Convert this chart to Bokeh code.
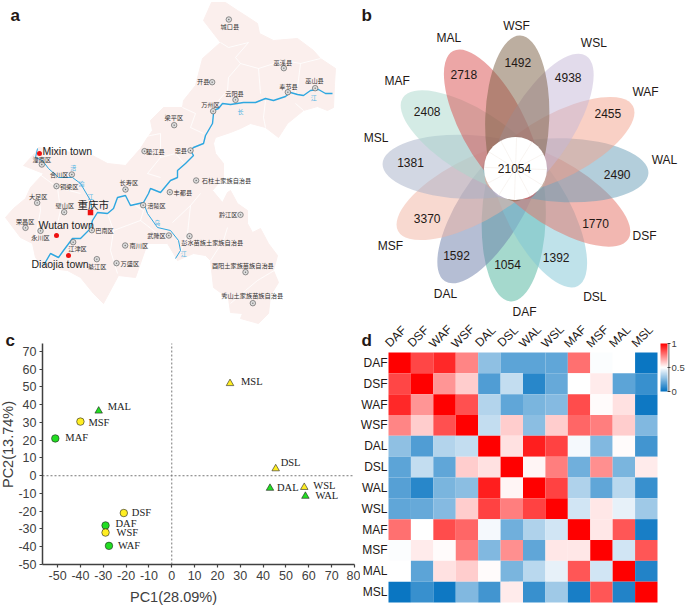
import math
from bokeh.plotting import figure
from bokeh.layouts import column, row
from bokeh.models import (Range1d, Label, LinearColorMapper, ColorBar,
                          FixedTicker, PolyAnnotation, ColumnDataSource)
from bokeh.transform import transform
from bokeh.core.properties import value
from bokeh.embed import file_html
from bokeh.resources import INLINE

SANS = "Liberation Sans"
SERIF = "Liberation Serif"
CJK = "Noto Sans CJK SC"

# ---------- panel a: map ----------
map_x = [211,225,237,248,257,259,273,297,313,320,335,334,333,327,317,303,287,278,265,250,240,230,215,213,215,223,223,
         212,222,227,230,237,247,247,252,260,268,277,273,278,270,268,258,240,242,230,228,213,210,205,193,177,173,167,147,
         135,118,103,93,80,67,43,35,32,20,5,13,25,30,43,23,35,38,92,107,125,140,147,152,150,163,182,183,195,202,220,203]
map_y = [2,2,10,17,23,33,40,38,50,58,68,83,107,110,106,110,123,137,127,123,128,132,137,143,153,163,177,
         190,202,192,190,203,210,223,232,228,243,255,270,282,295,313,323,318,313,312,298,287,260,255,253,260,253,243,243,
         277,275,303,293,277,270,267,257,243,237,217,208,198,187,173,165,152,147,155,163,165,148,137,130,120,107,107,100,85,58,42,20]
borders = [
    [(220,42),(228,47),(248,42),(235,57),(240,63),(258,68),(283,60),(300,63),(320,58)],
    [(240,63),(228,77),(227,90),(218,100)],
    [(258,68),(260,93)],
    [(300,63),(297,87),(293,95)],
    [(295,103),(303,110)],
    [(265,100),(263,117),(265,127)],
    [(182,107),(195,113),(190,127),(203,133)],
    [(140,137),(160,133),(160,157),(147,173),(160,177)],
    [(160,157),(175,153),(183,162)],
    [(190,205),(187,233),(180,252)],
    [(200,193),(190,205),(172,222)],
    [(227,227),(223,240),(210,260)],
    [(277,268),(257,280),(245,290),(230,303)],
    [(107,213),(113,230),(110,250),(117,273)],
    [(38,173),(57,187),(80,193)],
    [(57,187),(60,210),(57,223)],
    [(38,195),(40,210),(35,237)],
    [(113,230),(140,220),(143,210),(127,200)],
    [(140,220),(157,233)],
]
yangtze = [(332,93),(325,93),(318,89),(310,90),(303,95),(297,94),(290,92),(285,96),(273,100),(265,98),(255,102),(243,102),
           (230,104),(222,103),(218,108),(213,110),(213,113),(212,123),(205,135),(203,143),(193,147),(190,150),(193,155),
           (185,163),(177,170),(177,177),(170,180),(160,192),(150,188),(148,193),(143,202),(130,205),(125,195),(117,197),
           (113,208),(107,213),(97,212),(92,220),(90,228),(80,238),(72,238),(63,250),(58,257),(50,253),(43,265)]
jialing = [(92,212),(90,200),(80,183),(72,177),(58,177),(48,168),(42,160),(35,157),(37,148)]
wujiang = [(143,202),(147,213),(157,227),(170,230),(178,240),(180,250),(175,258)]

place_names = ["城口县","巫溪县","开县","奉节县","巫山县","云阳县","万州区","梁平区","忠县","垫江县","石柱土家族自治县",
               "长寿区","丰都县","涪陵区","黔江区","武隆区","彭水苗族土家族自治县","南川区","巴南区","江津区","綦江区",
               "万盛区","酉阳土家族苗族自治县","秀山土家族苗族自治县","潼南区","合川区","铜梁区","大足区","璧山区","荣昌区","永川区"]
sym_x = [685,850,635,862,944,705,638,521,570,432,587,375,508,428,720,505,567,374,274,218,289,348,735,757,124,214,168,110,191,75,120]
sym_y = [57,203,245,275,263,298,332,374,450,452,540,567,575,614,643,705,707,735,689,725,776,788,815,908,492,522,557,607,635,682,691]
lab_x = [688,847,608,864,942,702,630,520,541,465,678,385,547,468,683,468,635,415,312,231,290,388,727,755,124,176,206,113,193,74,120]
lab_y = [78,187,243,257,239,280,312,352,450,453,539,547,575,614,642,704,727,735,689,743,798,789,796,885,476,523,558,587,615,663,711]
river_names = ["长","江","江","渝","乌","江","涪"]
river_x = [720,940,270,243,470,550,218]
river_y = [333,292,587,548,665,758,500]
town_names = ["Mixin town","Wutan town","Diaojia town"]
town_dot_x = [39,56,68]
town_dot_y = [153,235,255]
town_lab_x = [42,38,31]
town_lab_y = [150,224,263]

# ---------- panel b: petals ----------
petal_names = ["WSF","WSL","WAF","WAL","DSF","DSL","DAF","DAL","MSF","MSL","MAF","MAL"]
petal_vals = [1492,4938,2455,2490,1770,1392,1054,1592,3370,1381,2408,2718]
petal_core = 21054
petal_cols = ["#795d41","#c5b7d7","#f3a18b","#679db7","#e56f63","#7fc5d5","#4bb39b","#6b7da9","#f1b3a1","#a5afc7","#a9d7cb","#d94d4d"]
val_x = [517,668,787,815,750,632,486,333,245,195,245,355]
val_y = [187,230,340,523,668,770,792,764,653,485,332,222]
name_x = [513,745,900,957,897,748,537,300,135,92,155,310]
name_y = [75,128,275,478,705,890,935,880,735,413,242,113]

# ---------- panel c: PCA ----------
pc_names = ["MSL","MAL","MSF","MAF","DSL","DAL","WSL","WAL","DSF","DAF","WSF","WAF"]
pc1 = [25.5,-32,-40,-51,45.5,43,58,58.5,-21,-29,-29,-27.5]
pc2 = [52,36.5,30.5,21,4,-7,-6.5,-11.5,-21,-28,-32,-39.5]
pc_marker = ["triangle","triangle","circle","circle","triangle","triangle","triangle","triangle","circle","circle","circle","circle"]
pc_col = ["#ffee22","#22dd22","#ffee22","#22dd22","#ffee22","#22dd22","#ffee22","#22dd22","#ffee22","#22dd22","#ffee22","#22dd22"]
pc_dx = [11,9,8,10,5,7,9,10,8,10,11,9]
pc_dy = [-2,-4,1,-1,-6,-1,-2,-1,-1,-2,0,0]
xticks = [-50,-40,-30,-20,-10,0,10,20,30,40,50,60,70,80]
yticks = [-50,-40,-30,-20,-10,0,10,20,30,40,50,60,70]

# ---------- panel d: correlation ----------
hm_names = ["DAF","DSF","WAF","WSF","DAL","DSL","WAL","WSL","MAF","MSF","MAL","MSL"]
hm_rows = [
    [1,.86,.92,.74,.28,.18,.18,.19,.78,.49,.5,.02],
    [.86,1,.71,.6,.16,.38,.08,.2,.5,.54,.18,.11],
    [.92,.71,1,.84,.35,.19,.24,.26,.85,.51,.56,.03],
    [.74,.6,.84,1,.38,.6,.27,.6,.8,.75,.6,.25],
    [.28,.16,.35,.38,1,.56,.94,.87,.48,.25,.51,.13],
    [.18,.38,.19,.6,.56,1,.52,.75,.22,.72,.24,.54],
    [.17,.08,.24,.27,.94,.52,1,.87,.34,.19,.36,.11],
    [.19,.2,.26,.6,.87,.75,.87,1,.41,.55,.45,.31],
    [.78,.5,.85,.8,.48,.22,.34,.41,1,.55,.83,.05],
    [.49,.54,.51,.75,.25,.72,.19,.55,.55,1,.41,.83],
    [.5,.18,.56,.6,.51,.24,.36,.45,.83,.41,1,.07],
    [.02,.11,.03,.25,.13,.54,.11,.31,.05,.83,.07,1],
]


def bare(fig):
    fig.xaxis.visible = False
    fig.yaxis.visible = False
    fig.xgrid.visible = False
    fig.ygrid.visible = False
    fig.outline_line_color = None
    fig.min_border = 0


def letter(fig, txt, x, y):
    fig.add_layout(Label(x=x, y=y, x_units="screen", y_units="screen", text=txt, text_font=SANS,
                         text_font_style="bold", text_font_size="17px", text_color="#231815",
                         text_align="left", text_baseline="alphabetic"))


W_A, W_B, H_A, H_B_TOP = 360, 325, 326, 320
W_C, W_D, H_C, H_D = 360, 325, 279, 285

# --- a ---
a = figure(width=W_A, height=H_A, x_range=Range1d(0, W_A), y_range=Range1d(H_A, 0),
           output_backend="svg", toolbar_location=None, tools="")
bare(a)
a.patch(map_x, map_y, fill_color="#fbefed", line_color="#fbefed", line_width=1)
a.multi_line([[q[0] for q in b] for b in borders], [[q[1] for q in b] for b in borders],
             line_color="#ffffff", line_width=0.8)
for r, w in ((yangtze, 1.4), (jialing, 1.0), (wujiang, 1.0)):
    a.line([q[0] for q in r], [q[1] for q in r], line_color="#2ea7e0", line_width=w)
a.text([v/3 for v in river_x], [v/3 for v in river_y], text=river_names, text_font=value(CJK),
       text_font_size="6px", text_color="#4fb4e4", text_align="center", text_baseline="middle")
a.scatter([v/3 for v in sym_x], [v/3 for v in sym_y], marker="circle_dot", size=5.5,
          fill_color="#dddddd", line_color="#666666", line_width=0.7)
a.text([v/3 for v in lab_x], [v/3 for v in lab_y], text=place_names, text_font=value(CJK),
       text_font_size="6.2px", text_color="#333333", text_align="center", text_baseline="middle")
a.scatter(town_dot_x, town_dot_y, size=5, fill_color="#ee1111", line_color=None)
a.scatter([90], [212], marker="square", size=5.5, fill_color="#ee1111", line_color=None)
a.text(town_lab_x, town_lab_y, text=town_names, text_font=value(SANS), text_font_size="10.5px",
       text_color="#222222", text_align="left", text_baseline="middle")
a.text([77], [204], text=["重庆市"], text_font=value(CJK), text_font_size="10.5px",
       text_color="#222222", text_align="left", text_baseline="middle")
letter(a, "a", 10, H_A - 15)

# --- b ---
CX, CY = 515, 168
b = figure(width=W_B, height=H_B_TOP, x_range=Range1d(W_A - CX, W_A + W_B - CX), y_range=Range1d(CY - H_B_TOP, CY),
           output_backend="svg", toolbar_location=None, tools="")
bare(b)
START, STEP, MID, MAJOR, MINOR, HOLE = 88, -30, 50, 166, 64, 31.5
angs = [math.radians(START + STEP * i) for i in range(len(petal_names))]
for i in (6, 7, 5, 8, 4, 9, 3, 10, 2, 11, 1, 0):
    b.ellipse([MID * math.cos(angs[i])], [MID * math.sin(angs[i])], width=MAJOR, height=MINOR, angle=angs[i],
              fill_color=petal_cols[i], fill_alpha=0.5, line_color=None)
b.circle([0], [0], radius=HOLE, fill_color="#ffffff", line_color=None)
b.segment([0]*12, [0]*12, [HOLE*math.cos(t) for t in angs], [HOLE*math.sin(t) for t in angs],
          line_color="#f5efeb", line_width=0.7)
b.text([345 + v/3 - CX for v in val_x] + [345 + 507/3 - CX], [CY - v/3 for v in val_y] + [CY - 503/3],
       text=[str(v) for v in petal_vals] + [str(petal_core)], text_font=value(SANS), text_font_size="12px",
       text_color="#231815", text_align="center", text_baseline="middle")
b.text([345 + v/3 - CX for v in name_x], [CY - v/3 for v in name_y], text=petal_names, text_font=value(SANS),
       text_font_size="12px", text_color="#231815", text_align="center", text_baseline="middle")
letter(b, "b", 1, H_B_TOP - 15)

# --- c --- (frame covers the whole canvas; the axes sit at fixed locations inside it)
X0, X1, Y0, Y1 = -56.6, 80, -50, 74.5
PX_L, PX_R, PX_T, PX_B = 42, 6, 17, 41
sx = (X1 - X0) / (W_C - PX_L - PX_R)
sy = (Y1 - Y0) / (H_C - PX_T - PX_B)
c = figure(width=W_C, height=H_C, x_range=Range1d(X0 - PX_L * sx, X1 + PX_R * sx),
           y_range=Range1d(Y0 - PX_B * sy, Y1 + PX_T * sy),
           output_backend="svg", toolbar_location=None, tools="", min_border=0)
c.xgrid.visible = False
c.ygrid.visible = False
c.outline_line_color = None
c.xaxis.fixed_location = Y0
c.yaxis.fixed_location = X0
c.xaxis.bounds = (X0, X1)
c.yaxis.bounds = (Y0, Y1)
c.xaxis.ticker = FixedTicker(ticks=xticks)
c.yaxis.ticker = FixedTicker(ticks=yticks)
c.xaxis.major_label_overrides = {v: str(v) for v in xticks}
c.yaxis.major_label_overrides = {v: str(v) for v in yticks}
for ax in (c.xaxis[0], c.yaxis[0]):
    ax.axis_line_color = "#404040"
    ax.axis_line_width = 1.5
    ax.major_tick_line_color = "#404040"
    ax.major_tick_line_width = 1.2
    ax.major_tick_in = 0
    ax.major_tick_out = 3
    ax.minor_tick_line_color = None
    ax.major_label_standoff = 3
    ax.major_label_text_font = SANS
    ax.major_label_text_font_size = "12.5px"
    ax.major_label_text_color = "#404040"
for txt, lx, ly, ang in (("PC1(28.09%)", 173, 9, 0), ("PC2(13.74%)", 7.5, 161, math.pi / 2)):
    c.add_layout(Label(x=lx, y=ly, x_units="screen", y_units="screen", text=txt, angle=ang,
                       text_font=SANS, text_font_size="14.5px", text_color="#404040",
                       text_align="center", text_baseline="middle"))
c.segment([0, X0], [Y0, 0], [0, X1], [Y1, 0], line_color="#777777", line_dash="2 2", line_width=1)
src = ColumnDataSource(dict(x=pc1, y=pc2, m=pc_marker, col=pc_col, name=pc_names, dx=pc_dx, dy=pc_dy))
c.scatter("x", "y", source=src, marker="m", size=7.5, fill_color="col", line_color="#222222", line_width=0.6)
c.text("x", "y", text="name", x_offset="dx", y_offset="dy", source=src, text_font=value(SERIF),
       text_font_size="10.5px", text_color="#222222", text_align="left", text_baseline="middle")
letter(c, "c", 5, 265)

# --- d --- (same idea: rows and columns are numbered cells inside a canvas-wide frame)
palette = []
for k in range(128):
    t = k / 127
    palette.append("#%02x%02x%02x" % (round(0 + 255*t), round(112 + 143*t), round(192 + 63*t)))
for k in range(128):
    t = k / 127
    palette.append("#%02x%02x%02x" % (255, round(255*(1-t)), round(255*(1-t))))
mapper = LinearColorMapper(palette=palette, low=0, high=1)
N = len(hm_names)
PD_L, PD_R, PD_T, PD_B = 28, 28, 32, 3
cw = (W_D - PD_L - PD_R) / N
ch = (H_D - PD_T - PD_B) / N
d = figure(width=W_D, height=H_D, x_range=Range1d(-PD_L / cw, N + PD_R / cw),
           y_range=Range1d(N + PD_B / ch, -PD_T / ch),
           output_backend="svg", toolbar_location=None, tools="", min_border=0)
d.xgrid.visible = False
d.ygrid.visible = False
d.xaxis.visible = False
d.outline_line_color = None
d.yaxis.fixed_location = 0
d.yaxis.ticker = FixedTicker(ticks=[i + 0.5 for i in range(N)])
d.yaxis.major_label_overrides = {i + 0.5: nm for i, nm in enumerate(hm_names)}
ax = d.yaxis[0]
ax.axis_line_color = None
ax.major_tick_line_color = None
ax.minor_tick_line_color = None
ax.major_tick_out = 0
ax.major_tick_in = 0
ax.major_label_standoff = 1
ax.major_label_text_font = SANS
ax.major_label_text_font_size = "12px"
ax.major_label_text_color = "#231815"
hx, hy, hv = [], [], []
for ri in range(N):
    for ci in range(N):
        hx.append(ci + 0.5); hy.append(ri + 0.5); hv.append(hm_rows[ri][ci])
hsrc = ColumnDataSource(dict(x=hx, y=hy, v=hv))
d.rect("x", "y", 1, 1, source=hsrc, fill_color=transform("v", mapper), line_color=None)
d.text([i + 0.5 for i in range(N)], [0] * N, text=hm_names, x_offset=-4, y_offset=-16, angle=math.pi / 4,
       text_font=value(SANS), text_font_size="12px", text_color="#231815",
       text_align="center", text_baseline="middle")
cb = ColorBar(color_mapper=mapper, width=7, height=48, location=(300, 214), padding=0, margin=0,
              ticker=FixedTicker(ticks=[0, 0.5, 1]), major_tick_in=0, major_tick_out=3,
              major_tick_line_color="#404040", bar_line_color=None, major_label_text_font=SANS,
              major_label_text_font_size="9.5px", major_label_text_color="#404040", label_standoff=1,
              background_fill_alpha=0)
d.add_layout(cb)
d.add_layout(PolyAnnotation(xs=[308, 308, 308.8, 308.8], ys=[214, 262, 262, 214], xs_units="screen", ys_units="screen",
                            fill_color="#404040", line_color=None, fill_alpha=1, editable=False))
letter(d, "d", 1, 265)

left = column(column(a), column(c))
right = column(column(b), column(d))
page = row(left, right)
open("out.html", "w").write(file_html(page, INLINE))
